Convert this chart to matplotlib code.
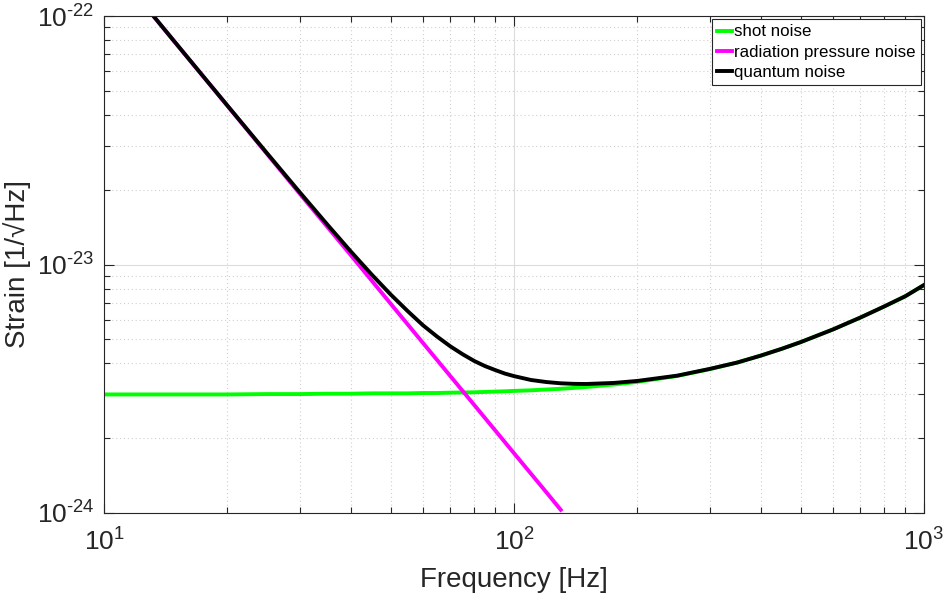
import numpy as np
import matplotlib
matplotlib.use("Agg")
import matplotlib.pyplot as plt
from matplotlib.ticker import LogLocator, FixedLocator, FuncFormatter, NullFormatter

plt.rcParams['font.family'] = ['Liberation Sans', 'DejaVu Sans']
plt.rcParams['mathtext.fontset'] = 'custom'
plt.rcParams['mathtext.rm'] = 'Liberation Sans'
plt.rcParams['mathtext.it'] = 'Liberation Sans'
plt.rcParams['mathtext.default'] = 'regular'

# values (in units of 1e-24 1/sqrt(Hz))
unit = 1e-24
freq = [10, 12, 15, 20, 25, 30, 35, 40, 45, 50, 55, 60, 65, 70, 75, 80, 85, 90, 95,
        100, 110, 120, 130, 140, 150, 175, 200, 250, 300, 350, 400, 450, 500, 600,
        700, 800, 900, 1000]
shot_noise = [3.00, 3.00, 3.00, 3.00, 3.01, 3.01, 3.02, 3.02, 3.03, 3.03, 3.03, 3.04,
              3.04, 3.05, 3.055, 3.06, 3.07, 3.08, 3.088, 3.10, 3.117, 3.14, 3.162,
              3.187, 3.214, 3.288, 3.37, 3.56, 3.79, 4.03, 4.30, 4.58, 4.87, 5.48,
              6.12, 6.78, 7.45, 8.27]
rp_freq = [10, 12, 15, 20, 30, 40, 50, 60, 70, 80, 100, 120, 130]
rp_noise = [174, 121, 77.3, 43.5, 19.3, 10.9, 6.96, 4.83, 3.55, 2.72, 1.74, 1.21, 1.03]
quantum_noise = [174, 121, 77.4, 43.6, 28.0, 19.56, 14.52, 11.28, 9.10, 7.58, 6.50, 5.69,
                 5.12, 4.68, 4.35, 4.09, 3.90, 3.76, 3.64, 3.555, 3.43, 3.365, 3.326,
                 3.309, 3.305, 3.337, 3.40, 3.57, 3.80, 4.03, 4.30, 4.58, 4.87, 5.48,
                 6.12, 6.78, 7.45, 8.27]

fig = plt.figure(figsize=(9.48, 5.93), dpi=100)
ax = fig.add_axes([104 / 948, 1 - 513 / 593, 820 / 948, 497 / 593])

ax.loglog(freq, np.array(shot_noise) * unit, color=(0, 1, 0), lw=2.8, label='shot noise')
ax.loglog(rp_freq, np.array(rp_noise) * unit, color=(1, 0, 1), lw=2.8,
          label='radiation pressure noise')
ax.loglog(freq, np.array(quantum_noise) * unit, color='k', lw=2.8, label='quantum noise')

ax.set_xlim(10, 1000)
ax.set_ylim(1e-24, 1e-22)


def dec_label(v, p):
    e = int(round(np.log10(v)))
    s = str(e).replace('-', '\u2010')
    return r'$10^{%s}$' % s


ax.xaxis.set_major_locator(FixedLocator([10, 100, 1000]))
ax.yaxis.set_major_locator(FixedLocator([1e-24, 1e-23, 1e-22]))
ax.xaxis.set_major_formatter(FuncFormatter(dec_label))
ax.yaxis.set_major_formatter(FuncFormatter(dec_label))
ax.xaxis.set_minor_locator(LogLocator(base=10, subs=np.arange(2, 10), numticks=20))
ax.yaxis.set_minor_locator(LogLocator(base=10, subs=np.arange(2, 10), numticks=20))
ax.xaxis.set_minor_formatter(NullFormatter())
ax.yaxis.set_minor_formatter(NullFormatter())

ax.grid(True, which='major', color='#dcdcdc', lw=0.8, ls='-')
ax.grid(True, which='minor', color='#d0d0d0', lw=0.8, ls=(0, (1, 2.5)))
ax.set_axisbelow(True)

ax.tick_params(which='both', direction='in', top=True, right=True, colors='#262626',
               labelcolor='#262626', labelsize=19)
ax.tick_params(which='major', length=7, width=0.8)
ax.tick_params(which='minor', length=4, width=0.8)
ax.tick_params(axis='x', which='major', pad=11)
ax.tick_params(axis='y', which='major', pad=7)
for s in ax.spines.values():
    s.set_color('#262626')
    s.set_linewidth(0.8)

ax.set_xlabel('Frequency [Hz]', fontsize=20, color='#262626', labelpad=8)
ax.set_ylabel('Strain [1/\u221aHz]', fontsize=20, color='#262626', labelpad=4)

leg = ax.legend(loc='upper right', fontsize=12.2, frameon=True, fancybox=False,
                edgecolor='#262626', framealpha=1, handlelength=0.9, handletextpad=0.1,
                borderpad=0.3, labelspacing=0.3, borderaxespad=0.2)
leg.get_frame().set_linewidth(0.8)

plt.savefig('out.png', dpi=100)
